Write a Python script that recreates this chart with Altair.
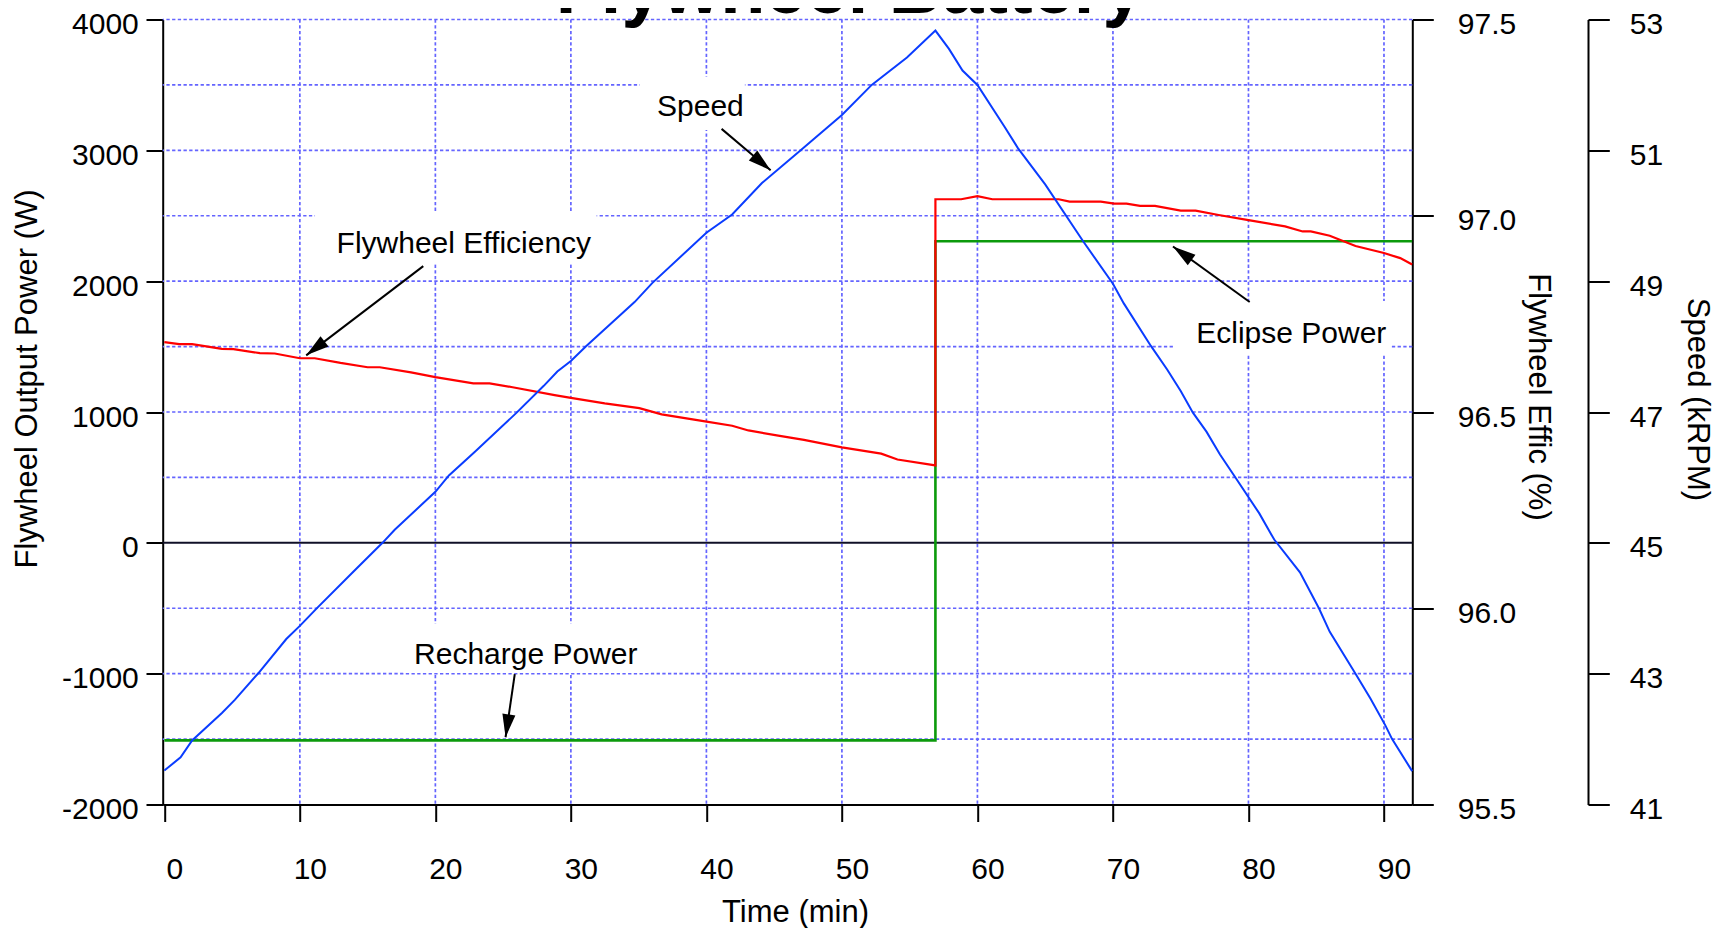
import math
import altair as alt
import pandas as pd

FONT = "Liberation Sans"
TITLE = "Flywheel Battery"

# ---------------- data ----------------
speed_t = [0.0, 1.2, 2.05, 4.25, 5.2, 6.95, 9.0, 10.0, 11.3, 14.0, 16.1, 17.0, 20.0, 21.0,
           22.9, 26.0, 28.0, 29.0, 30.0, 31.1, 34.7, 36.0, 40.0, 41.9, 44.1, 47.0, 50.0, 52.2,
           54.8, 56.9, 57.9, 58.9, 60.0, 62.0, 63.0, 65.0, 67.8, 70.0, 70.8, 72.8, 74.0, 75.0,
           75.9, 76.9, 77.9, 79.0, 80.8, 81.9, 83.8, 85.2, 86.0, 87.9, 89.0, 90.1, 90.6, 92.08]
speed_v = [41.52, 41.72, 41.98, 42.40, 42.60, 43.01, 43.53, 43.73, 44.01, 44.57, 45.00, 45.20,
           45.78, 46.03, 46.39, 46.99, 47.40, 47.62, 47.78, 48.00, 48.68, 48.97, 49.74, 50.02,
           50.50, 51.01, 51.54, 52.00, 52.42, 52.83, 52.55, 52.22, 52.00, 51.36, 51.03, 50.48,
           49.61, 48.96, 48.66, 48.01, 47.65, 47.32, 46.99, 46.70, 46.35, 46.01, 45.45, 45.05,
           44.55, 44.00, 43.64, 43.00, 42.62, 42.21, 42.00, 41.51]

eff_t = [0.0, 1.1, 2.05, 4.25, 5.1, 7.05, 8.15, 10.0, 11.1, 13.0, 15.0, 15.9, 18.2, 20.0,
         22.8, 24.0, 25.7, 28.8, 30.0, 32.5, 35.05, 36.7, 39.9, 41.9, 43.1, 45.3, 47.2, 50.0,
         52.9, 54.1, 56.9, 56.9, 58.8, 60.0, 61.1, 66.0, 66.8, 69.1, 70.1, 71.0, 72.0, 73.1,
         75.0, 76.1, 77.8, 80.0, 82.7, 84.0, 84.6, 86.0, 87.9, 90.0, 91.2, 92.08]
eff_v = [96.678, 96.673, 96.673, 96.661, 96.660, 96.650, 96.649, 96.637, 96.637, 96.625,
         96.614, 96.614, 96.601, 96.589, 96.573, 96.573, 96.563, 96.543, 96.536, 96.522,
         96.510, 96.494, 96.476, 96.465, 96.453, 96.440, 96.429, 96.410, 96.394, 96.379,
         96.364, 97.042, 97.042, 97.050, 97.042, 97.042, 97.036, 97.036, 97.031, 97.031,
         97.025, 97.025, 97.013, 97.013, 97.002, 96.989, 96.973, 96.960, 96.960, 96.949,
         96.923, 96.905, 96.892, 96.876]

power_t = [0.0, 56.9, 56.9, 92.08]
power_w = [-1510, -1510, 2305, 2305]

zero_w = [0]

x_ticks = [0, 10, 20, 30, 40, 50, 60, 70, 80, 90]
power_ticks = [-2000, -1000, 0, 1000, 2000, 3000, 4000]
eff_ticks = [95.5, 96.0, 96.5, 97.0, 97.5]
speed_ticks = [41, 43, 45, 47, 49, 51, 53]
hgrid_w = [-1500, -1000, -500, 500, 1000, 1500, 2000, 2500, 3000, 3500, 4000]
vgrid_t = [10, 20, 30, 40, 50, 60, 70, 80, 90]

labels = ["Speed", "Flywheel Efficiency", "Eclipse Power", "Recharge Power"]
label_t = [39.56, 22.10, 83.16, 26.67]
label_w = [3265, 2214, 1530, -924]
arrow_t0 = [41.12, 19.11, 80.09, 25.86]
arrow_w0 = [3164, 2115, 1841, -1004]
arrow_t1 = [44.74, 10.47, 74.43, 25.18]
arrow_w1 = [2847, 1433, 2265, -1486]
box_t0 = [35.08, 11.12, 74.55, 17.64]
box_t1 = [42.84, 31.90, 90.52, 35.75]
box_w0 = [3561, 2525, 1849, -620]
box_w1 = [3156, 2130, 1438, -994]

# ---------------- layout / style ----------------
X_DOMAIN = [-0.12, 92.09]
P_DOMAIN = [-2000, 4000]
E_DOMAIN = [95.5, 97.5]
S_DOMAIN = [41, 53]
TOP = 11.5
W_PLOT = 1249.6
H_PLOT = 785.0
GRID = "#6464ff"
BLUE = "#0a3cff"
RED = "#ff0000"
GREEN = "#0c9a0c"

px_per_min = W_PLOT / (X_DOMAIN[1] - X_DOMAIN[0])
px_per_w = H_PLOT / (P_DOMAIN[1] - P_DOMAIN[0])
angles = []
for a, b, c, d in zip(arrow_t0, arrow_w0, arrow_t1, arrow_w1):
    dx = (c - a) * px_per_min
    dy = -(d - b) * px_per_w
    angles.append(math.degrees(math.atan2(dx, -dy)) % 360)

speed_df = pd.DataFrame({"t": speed_t, "speed": speed_v})
eff_df = pd.DataFrame({"t": eff_t, "eff": eff_v, "i": list(range(len(eff_t)))})
pow_df = pd.DataFrame({"t": power_t, "W": power_w, "i": list(range(len(power_t)))})
zero_df = pd.DataFrame({"W": zero_w})
hgrid_df = pd.DataFrame({"W": hgrid_w})
vgrid_df = pd.DataFrame({"t": vgrid_t})
lab_df = pd.DataFrame({"label": labels, "t": label_t, "W": label_w})
arr_df = pd.DataFrame({"t": arrow_t0, "W": arrow_w0, "t1": arrow_t1, "W1": arrow_w1,
                       "ang": angles})
box_df = pd.DataFrame({"t": box_t0, "t1": box_t1, "W": box_w0, "W1": box_w1})
title_df = pd.DataFrame({"title": [TITLE]})

xscale = alt.Scale(domain=X_DOMAIN, nice=False, zero=False)
pscale = alt.Scale(domain=P_DOMAIN, nice=False, zero=False)

common_axis = dict(grid=False, tickColor="black", tickWidth=2, domainColor="black",
                   domainWidth=2, labelFont=FONT, labelFontSize=30, labelColor="black",
                   titleFont=FONT, titleFontSize=31, titleFontWeight="normal",
                   titleColor="black")

xaxis = alt.Axis(values=x_ticks, title="Time (min)", tickSize=17, labelPadding=33,
                 labelOffset=10, labelFlush=False, labelOverlap=False,
                 titleX=632.3, titleY=116.5, titleBaseline="alphabetic", titleAlign="center",
                 **common_axis)
paxis = alt.Axis(values=power_ticks, orient="left", title="Flywheel Output Power (W)",
                 labelExpr="'' + datum.value",
                 tickSize=16.7, labelPadding=7.7, labelOffset=5, labelBaseline="middle",
                 titleAngle=270, titleX=-135.2, titleY=362.5 - TOP + 8, titleBaseline="middle",
                 titleAlign="center", **common_axis)
eaxis = alt.Axis(values=eff_ticks, orient="right", format=".1f", title="Flywheel Effic (%)",
                 offset=0, tickSize=21, labelPadding=24, labelOffset=5, labelBaseline="middle",
                 titleAngle=90, titleX=125.7, titleY=380.5 - TOP + 8, titleBaseline="middle",
                 titleAlign="center", **common_axis)
saxis = alt.Axis(values=speed_ticks, orient="right", format="d", title="Speed (kRPM)",
                 offset=175.7, tickSize=21.3, labelPadding=20, labelOffset=5,
                 labelBaseline="middle", titleAngle=90, titleX=108, titleY=383 - TOP + 8,
                 titleBaseline="middle", titleAlign="center", **common_axis)

X = lambda f="t": alt.X(f"{f}:Q", scale=xscale, axis=xaxis)
Y = lambda f="W": alt.Y(f"{f}:Q", scale=pscale, axis=paxis)

grid_mark = dict(color=GRID, strokeWidth=1.7, strokeDash=[3.3, 2.4])
hgrid = alt.Chart(hgrid_df).mark_rule(**grid_mark).encode(y=Y())
vgrid = alt.Chart(vgrid_df).mark_rule(**grid_mark).encode(x=X())
boxes = alt.Chart(box_df).mark_rect(fill="white", strokeWidth=0).encode(
    x=X(), x2="t1:Q", y=Y(), y2="W1:Q")
zero = alt.Chart(zero_df).mark_rule(color="#101028", strokeWidth=2).encode(y=Y())
power = alt.Chart(pow_df).mark_line(color=GREEN, strokeWidth=2.6).encode(
    x=X(), y=Y(), order="i:Q")
shafts = alt.Chart(arr_df).mark_rule(color="black", strokeWidth=2).encode(
    x=X(), x2="t1:Q", y=Y(), y2="W1:Q")
heads = alt.Chart(arr_df).mark_point(shape="M0,0L-0.57,2L0.57,2Z", size=529, filled=True,
                                     color="black", opacity=1).encode(
    x=X("t1"), y=Y("W1"), angle=alt.Angle("ang:Q", scale=None))
texts = alt.Chart(lab_df).mark_text(font=FONT, fontSize=30, color="black", align="center",
                                    baseline="alphabetic").encode(x=X(), y=Y(), text="label:N")
# title sits mostly above the page edge, as in the source image (baseline ~13 px from page top)
title = alt.Chart(title_df).mark_text(font=FONT, fontSize=74, fontWeight="bold", color="black",
                                      align="center", baseline="alphabetic").encode(
    x=alt.value(687), y=alt.value(13 - 8 - TOP), text="title:N")

power_group = alt.layer(hgrid, vgrid, boxes, zero, power, shafts, heads, texts, title)

eff_line = alt.Chart(eff_df).mark_line(color=RED, strokeWidth=2.2).encode(
    x=X(), y=alt.Y("eff:Q", scale=alt.Scale(domain=E_DOMAIN, nice=False, zero=False), axis=eaxis),
    order="i:Q")
speed_line = alt.Chart(speed_df).mark_line(color=BLUE, strokeWidth=2).encode(
    x=X(), y=alt.Y("speed:Q", scale=alt.Scale(domain=S_DOMAIN, nice=False, zero=False), axis=saxis))

chart = alt.layer(power_group, eff_line, speed_line).resolve_scale(y="independent").properties(
    width=W_PLOT, height=H_PLOT,
    autosize=alt.AutoSizeParams(type="none"),
    padding={"left": 154.7, "top": TOP, "right": 301.7, "bottom": 123},
).configure_view(strokeWidth=0)

chart.save("out.html", embed_options={"renderer": "svg", "actions": False})
